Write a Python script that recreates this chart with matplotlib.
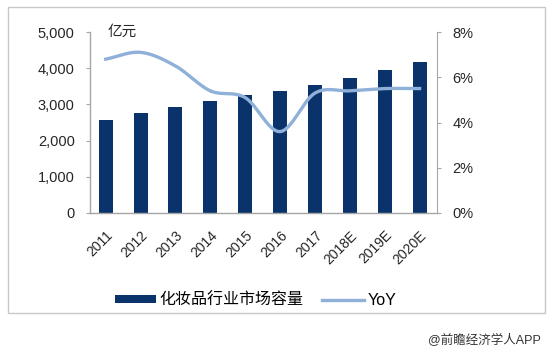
import numpy as np
import matplotlib
matplotlib.use("Agg")
import matplotlib.pyplot as plt
from matplotlib.patches import Rectangle

plt.rcParams['font.family'] = ['Liberation Sans', 'Noto Sans CJK SC', 'DejaVu Sans']

years = ["2011", "2012", "2013", "2014", "2015", "2016", "2017", "2018E", "2019E", "2020E"]
market_size = [2570, 2750, 2940, 3100, 3260, 3380, 3540, 3730, 3940, 4160]  # 亿元
yoy = [6.8, 7.1, 6.5, 5.4, 5.1, 3.6, 5.3, 5.4, 5.5, 5.5]  # %

BAR = "#0B336B"
LINE = "#8FB0D8"
GRID = "#A6A6A6"
TXT = "#262626"


def catmull_rom(x, y, n=30):
    """Smoothed line like the spreadsheet one: Catmull-Rom through the points."""
    p = np.column_stack([x, y]).astype(float)
    p = np.vstack([p[0] * 2 - p[1], p, p[-1] * 2 - p[-2]])
    out = []
    t = np.linspace(0, 1, n)[:, None]
    for i in range(1, len(p) - 2):
        p0, p1, p2, p3 = p[i - 1], p[i], p[i + 1], p[i + 2]
        seg = 0.5 * ((2 * p1) + (-p0 + p2) * t + (2 * p0 - 5 * p1 + 4 * p2 - p3) * t ** 2
                     + (-p0 + 3 * p1 - 3 * p2 + p3) * t ** 3)
        out.append(seg)
    s = np.vstack(out)
    return s[:, 0], s[:, 1]


fig = plt.figure(figsize=(5.49, 3.53), dpi=100)
# outer light frame
fig.patches.append(Rectangle((8 / 549, 1 - 313 / 353), 537 / 549, 306 / 353,
                             transform=fig.transFigure, fill=False,
                             edgecolor="#C8C8C8", linewidth=1.0))

ax = fig.add_axes([90 / 549, 1 - 213 / 353, 347 / 549, 181 / 353])
x = np.arange(len(years))
ax.bar(x, market_size, width=0.4, color=BAR, label="化妆品行业市场容量", zorder=2)
ax.set_xlim(-0.45, 9.5)
ax.set_ylim(0, 5000)
ax.set_yticks(range(0, 5001, 1000))
ax.set_yticklabels([f"{v:,}" for v in range(0, 5001, 1000)], fontsize=10.5, color=TXT)
ax.set_xticks(x)
ax.set_xticklabels(years, rotation=45, ha="right", rotation_mode="anchor",
                   fontsize=10, color=TXT)
ax.tick_params(axis="x", length=0, pad=11)
ax.tick_params(axis="y", direction="out", length=3, color=GRID, pad=8)
for s in ["top", "right"]:
    ax.spines[s].set_visible(False)
for s in ["left", "bottom"]:
    ax.spines[s].set_color(GRID)
    ax.spines[s].set_linewidth(1.0)

ax2 = ax.twinx()
sx, sy = catmull_rom(x, yoy)
ax2.plot(sx, sy, color=LINE, linewidth=2.4, label="YoY", zorder=3)
ax2.set_ylim(0, 8)
ax2.set_yticks(range(0, 9, 2))
ax2.set_yticklabels([f"{v}%" for v in range(0, 9, 2)], fontsize=10.5, color=TXT)
ax2.tick_params(axis="y", direction="out", length=3, color=GRID, pad=8)
for s in ["top", "left", "bottom"]:
    ax2.spines[s].set_visible(False)
ax2.spines["right"].set_color(GRID)

ax.text(0.05, 1.0, "亿元", transform=ax.transAxes, ha="left", va="center",
        fontsize=10.5, color=TXT)

h1, l1 = ax.get_legend_handles_labels()
h2, l2 = ax2.get_legend_handles_labels()
fig.legend(h1 + h2, l1 + l2, loc="center", bbox_to_anchor=(0.465, 1 - 300 / 353),
           ncol=2, frameon=False, fontsize=11.5, handlelength=2.6, handleheight=0.35,
           columnspacing=1.2, handletextpad=0.2)

fig.text(541 / 549, 1 - 340 / 353, "@前瞻经济学人APP", ha="right", va="center",
         fontsize=9, color="#333333")

fig.savefig("out.png", dpi=100)
